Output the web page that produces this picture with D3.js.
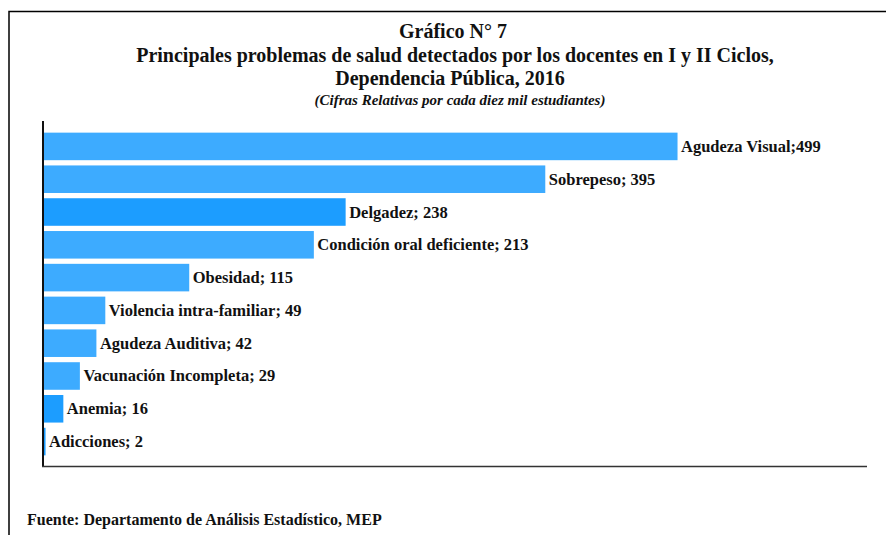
<!DOCTYPE html>
<html>
<head>
<meta charset="utf-8">
<script src="https://cdn.jsdelivr.net/npm/d3@7"></script>
<style>
  body { margin: 0; background: #fff; }
  svg { display: block; font-family: "Liberation Serif", "Times New Roman", serif; }
</style>
</head>
<body>
<div id="chart"></div>
<script>
// data (cifras relativas por cada diez mil estudiantes)
const categories = [
    "Agudeza Visual",
    "Sobrepeso",
    "Delgadez",
    "Condición oral deficiente",
    "Obesidad",
    "Violencia intra-familiar",
    "Agudeza Auditiva",
    "Vacunación Incompleta",
    "Anemia",
    "Adicciones"
];
const values = [499, 395, 238, 213, 115, 49, 42, 29, 16, 2];

const titleLines = [
    "Gráfico N° 7",
    "Principales problemas de salud detectados por los docentes en I y II Ciclos,",
    "Dependencia Pública, 2016"
];
const subtitle = "(Cifras Relativas por cada diez mil estudiantes)";
const source = "Fuente: Departamento de Análisis Estadístico, MEP";

// bars drawn in the slightly darker blue
const darkBars = new Set(["Delgadez", "Anemia", "Adicciones"]);

const width = 886, height = 535;
const data = categories.map((c, i) => ({ cat: c, value: values[i] }));

const svg = d3.select("#chart")
    .append("svg")
    .attr("width", width)
    .attr("height", height);

// outer frame (top and left edges only visible)
svg.append("path")
    .attr("d", `M9,${height} V11.5 H${width}`)
    .attr("fill", "none")
    .attr("stroke", "#000")
    .attr("stroke-width", 1.5);

const x = d3.scaleLinear()
    .domain([0, 500])
    .range([43, 43 + 500 * 1.2716]);

const y = d3.scaleBand()
    .domain(categories)
    .range([121, 467])
    .paddingInner(0.16)
    .paddingOuter(0.355);

svg.selectAll("rect.bar")
    .data(data)
    .join("rect")
    .attr("class", "bar")
    .attr("x", x(0))
    .attr("y", d => y(d.cat))
    .attr("width", d => x(d.value) - x(0))
    .attr("height", y.bandwidth())
    .attr("fill", d => darkBars.has(d.cat) ? "#1c9dff" : "#3dabff");

svg.selectAll("text.lbl")
    .data(data)
    .join("text")
    .attr("class", "lbl")
    .attr("x", d => x(d.value) + 3.5)
    .attr("y", d => y(d.cat) + y.bandwidth() / 2 + 5.5)
    .style("font-size", "16.5px")
    .style("font-weight", "bold")
    .style("fill", "#111")
    .text(d => d.cat + (d.cat === "Agudeza Visual" ? ";" : "; ") + d.value);

// axes lines, no ticks
svg.append("line")
    .attr("x1", 43).attr("x2", 43)
    .attr("y1", 121).attr("y2", 467)
    .attr("stroke", "#111").attr("stroke-width", 2);
svg.append("line")
    .attr("x1", 42).attr("x2", 867)
    .attr("y1", 466.5).attr("y2", 466.5)
    .attr("stroke", "#333").attr("stroke-width", 1.5);

// titles
const titleY = [38, 62, 85];
const titleX = [453, 455, 450];
svg.selectAll("text.title")
    .data(titleLines)
    .join("text")
    .attr("class", "title")
    .attr("x", (d, i) => titleX[i])
    .attr("y", (d, i) => titleY[i])
    .attr("text-anchor", "middle")
    .style("font-size", "20px")
    .style("font-weight", "bold")
    .style("fill", "#111")
    .text(d => d);

svg.append("text")
    .attr("x", 460)
    .attr("y", 105)
    .attr("text-anchor", "middle")
    .style("font-size", "15px")
    .style("font-weight", "bold")
    .style("font-style", "italic")
    .style("fill", "#111")
    .text(subtitle);

svg.append("text")
    .attr("x", 27)
    .attr("y", 525)
    .style("font-size", "16px")
    .style("font-weight", "bold")
    .style("fill", "#111")
    .text(source);
</script>
</body>
</html>
